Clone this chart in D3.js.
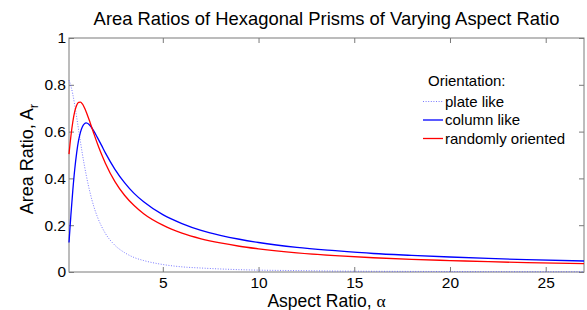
<!DOCTYPE html>
<html>
<head>
<meta charset="utf-8">
<script src="https://d3js.org/d3.v7.min.js"></script>
<style>
  body { margin: 0; background: #fff; }
  text { font-family: "Liberation Sans", Arial, sans-serif; fill: #000; }
</style>
</head>
<body>
<div id="chart"></div>
<script>
// values
var aspect = [0.1, 0.2, 0.3, 0.4, 0.5, 0.6, 0.7, 0.8, 0.9, 1.0, 1.2, 1.4, 1.6, 1.8, 2.0, 2.5, 3, 3.5, 4, 5, 6, 7, 8, 9, 10, 12, 14, 16, 18, 20, 22, 24, 27];
var plateLike = [0.819, 0.795, 0.759, 0.713, 0.662, 0.608, 0.555, 0.504, 0.457, 0.414, 0.339, 0.279, 0.232, 0.195, 0.165, 0.114, 0.083, 0.062, 0.049, 0.032, 0.022, 0.017, 0.013, 0.010, 0.008, 0.006, 0.004, 0.003, 0.0025, 0.002, 0.0017, 0.0014, 0.0011];
var columnLike = [0.126, 0.245, 0.350, 0.439, 0.509, 0.562, 0.598, 0.621, 0.633, 0.637, 0.626, 0.602, 0.572, 0.541, 0.509, 0.439, 0.382, 0.336, 0.300, 0.245, 0.207, 0.178, 0.157, 0.140, 0.126, 0.105, 0.091, 0.079, 0.071, 0.064, 0.058, 0.053, 0.047];
var randomlyOriented = [0.504, 0.581, 0.642, 0.686, 0.713, 0.725, 0.726, 0.718, 0.703, 0.684, 0.639, 0.591, 0.545, 0.503, 0.465, 0.386, 0.328, 0.284, 0.249, 0.200, 0.166, 0.142, 0.124, 0.110, 0.099, 0.082, 0.070, 0.061, 0.054, 0.049, 0.044, 0.040, 0.036];
var xTicks = [5, 10, 15, 20, 25];
var yTicks = [0, 0.2, 0.4, 0.6, 0.8, 1];
var yTickLabels = ["0", "0.2", "0.4", "0.6", "0.8", "1"];
var seriesNames = ["plate like", "column like", "randomly oriented"];

var W = 587, H = 310;
var margin = {top: 38, right: 3, bottom: 38, left: 69},
    width = W - margin.left - margin.right,
    height = H - margin.top - margin.bottom;

var svg = d3.select("#chart")
  .append("svg")
  .attr("width", W)
  .attr("height", H);

var g = svg.append("g")
  .attr("transform", "translate(" + margin.left + "," + margin.top + ")");

var x = d3.scaleLinear().domain([0.1, 27]).range([0, width]);
var y = d3.scaleLinear().domain([0, 1]).range([height, 0]);

var axisColor = "#7a7a7a";

function styleAxis(sel) {
  sel.select(".domain").remove();
  sel.selectAll(".tick line").attr("stroke", axisColor);
  sel.selectAll("text").attr("fill", "#000").style("font-size", "15.5px")
    .style("font-family", "'Liberation Sans', Arial, sans-serif");
}

g.append("g")
  .attr("transform", "translate(0," + height + ")")
  .call(d3.axisBottom(x).tickValues(xTicks).tickSize(-5).tickPadding(5).tickFormat(d3.format("d")))
  .call(styleAxis);

g.append("g")
  .call(d3.axisTop(x).tickValues(xTicks).tickSize(-5).tickFormat(""))
  .call(styleAxis);

g.append("g")
  .call(d3.axisLeft(y).tickValues(yTicks).tickSize(-5).tickPadding(3)
    .tickFormat(function(d, i) { return yTickLabels[i]; }))
  .call(styleAxis);

g.append("g")
  .attr("transform", "translate(" + width + ",0)")
  .call(d3.axisRight(y).tickValues(yTicks).tickSize(-5).tickFormat(""))
  .call(styleAxis);

// box
g.append("rect")
  .attr("x", 0).attr("y", 0)
  .attr("width", width).attr("height", height)
  .attr("fill", "none")
  .attr("stroke", axisColor)
  .attr("stroke-width", 1);

var line = d3.line()
  .x(function(d) { return x(d[0]); })
  .y(function(d) { return y(d[1]); })
  .curve(d3.curveMonotoneX);

function pairs(vals) { return aspect.map(function(a, i) { return [a, vals[i]]; }); }

var plot = g.append("g");

plot.append("path")
  .datum(pairs(plateLike))
  .attr("d", line)
  .attr("fill", "none")
  .attr("stroke", "#5a5aff")
  .attr("stroke-width", 1)
  .attr("stroke-dasharray", "1,1.6")
  .attr("opacity", 0.8);

plot.append("path")
  .datum(pairs(columnLike))
  .attr("d", line)
  .attr("fill", "none")
  .attr("stroke", "#0000ff")
  .attr("stroke-width", 1.3);

plot.append("path")
  .datum(pairs(randomlyOriented))
  .attr("d", line)
  .attr("fill", "none")
  .attr("stroke", "#ff0000")
  .attr("stroke-width", 1.3);

// title
svg.append("text")
  .attr("x", margin.left + width / 2)
  .attr("y", 25)
  .attr("text-anchor", "middle")
  .style("font-size", "18.4px")
  .text("Area Ratios of Hexagonal Prisms of Varying Aspect Ratio");

// x label
var xl = svg.append("text")
  .attr("x", margin.left + width / 2)
  .attr("y", 306.5)
  .attr("text-anchor", "middle")
  .style("font-size", "17.5px");
xl.append("tspan").text("Aspect Ratio, ");
xl.append("tspan").style("font-family", "'Liberation Serif', 'DejaVu Serif', serif").text("α");

// y label
var yl = svg.append("text")
  .attr("transform", "translate(33,159) rotate(-90)")
  .attr("text-anchor", "middle")
  .style("font-size", "18px");
yl.append("tspan").text("Area Ratio, A");
yl.append("tspan").attr("dy", 5).style("font-size", "13px").text("r");

// legend
var leg = svg.append("g");
leg.append("text")
  .attr("x", 428).attr("y", 86)
  .style("font-size", "15px")
  .text("Orientation:");

var legStyles = [
  {stroke: "#5a5aff", dash: "1,1.6", w: 1, op: 0.8},
  {stroke: "#0000ff", dash: null, w: 1.3, op: 1},
  {stroke: "#ff0000", dash: null, w: 1.3, op: 1}
];

seriesNames.forEach(function(name, i) {
  var yy = 101.5 + i * 18.5;
  leg.append("line")
    .attr("x1", 423).attr("x2", 443)
    .attr("y1", yy).attr("y2", yy)
    .attr("stroke", legStyles[i].stroke)
    .attr("stroke-width", legStyles[i].w)
    .attr("stroke-dasharray", legStyles[i].dash)
    .attr("opacity", legStyles[i].op);
  leg.append("text")
    .attr("x", 445).attr("y", yy + 5)
    .style("font-size", "15px")
    .text(name);
});
</script>
</body>
</html>
